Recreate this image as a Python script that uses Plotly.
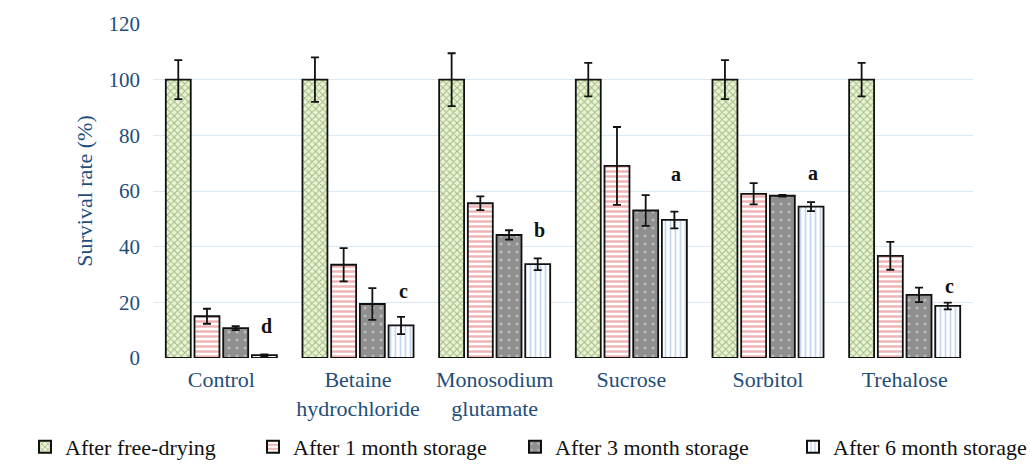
import plotly.graph_objects as go

categories = ["Control", "Betaine<br>hydrochloride", "Monosodium<br>glutamate", "Sucrose", "Sorbitol", "Trehalose"]
series_names = ["After free-drying", "After 1 month storage", "After 3 month storage", "After 6 month storage"]

free_drying = [100, 100, 100, 100, 100, 100]
free_drying_err = [7, 8, 9.5, 6, 7, 6]
month1 = [15, 33.5, 55.6, 69, 59, 36.7]
month1_err = [2.7, 6, 2.5, 14, 3.8, 5]
month3 = [10.7, 19.4, 44.2, 53, 58.3, 22.7]
month3_err = [0.7, 5.7, 1.7, 5.5, 0.3, 2.6]
month6 = [1, 11.7, 33.7, 49.6, 54.4, 18.7]
month6_err = [0.3, 3.1, 2.1, 3, 1.6, 1.2]

sig_letters = ["d", "c", "b", "a", "a", "c"]
sig_y = [11.5, 24, 46, 66, 66.5, 26]

values = [free_drying, month1, month3, month6]
errors = [free_drying_err, month1_err, month3_err, month6_err]

styles = [
    dict(bg="#eaf3d6", fg="#557f22", shape="x", size=5, solidity=0.35),
    dict(bg="#ffffff", fg="#e06a6a", shape="-", size=5, solidity=0.5),
    dict(bg="#8f8f8f", fg="#e6e6e6", shape=".", size=8, solidity=0.12),
    dict(bg="#ffffff", fg="#8fb0e0", shape="|", size=5, solidity=0.35),
]

# one legend per series so each entry sits where the reference places it
legend_ids = ["legend", "legend2", "legend3", "legend4"]
legend_x_px = [25, 253, 515, 793]

FONT = "Liberation Serif"
BLUE = "#1f4e79"
W, H = 1034, 475

fig = go.Figure()
for name, v, e, s, lg in zip(series_names, values, errors, styles, legend_ids):
    fig.add_trace(go.Bar(
        name=name, x=categories, y=v, legend=lg,
        marker=dict(
            color=s["bg"],
            line=dict(color="#111111", width=1.8),
            pattern=dict(shape=s["shape"], fgcolor=s["fg"], bgcolor=s["bg"],
                         size=s["size"], solidity=s["solidity"], fillmode="overlay"),
        ),
        error_y=dict(type="data", array=e, visible=True, color="#111111", thickness=1.8, width=4),
    ))

for cat, letter, yv in zip(categories, sig_letters, sig_y):
    fig.add_annotation(x=cat, y=yv, text="<b>" + letter + "</b>", showarrow=False,
                       xref="x", yref="y", xshift=45,
                       font=dict(family=FONT, size=20, color="#111111"))

legend_layout = {}
for lg, xp in zip(legend_ids, legend_x_px):
    legend_layout[lg] = dict(orientation="h", xref="container", yref="container",
                             x=xp / W, xanchor="left", y=1 - 447 / H, yanchor="middle",
                             font=dict(family=FONT, size=22, color="#111111"),
                             bgcolor="rgba(0,0,0,0)", itemsizing="constant")

fig.update_layout(
    width=W, height=H,
    margin=dict(l=153, r=61, t=24, b=117, autoexpand=False),
    paper_bgcolor="white", plot_bgcolor="white",
    barmode="group", bargap=0.16, bargroupgap=0.13,
    font=dict(family=FONT, color=BLUE),
    showlegend=True,
    **legend_layout,
)
fig.update_yaxes(range=[0, 120], dtick=20, showgrid=True, gridcolor="#dce8f4", gridwidth=1,
                 zeroline=False, showline=False, ticks="", ticklabelstandoff=12,
                 tickfont=dict(family=FONT, size=21, color=BLUE),
                 title=dict(text="Survival rate (%)", font=dict(family=FONT, size=22, color=BLUE), standoff=9))
fig.update_xaxes(showline=False, ticks="", showgrid=False, ticklabelstandoff=6,
                 tickfont=dict(family=FONT, size=22, color=BLUE))

fig.write_html("out.html", config={"displayModeBar": False},
               post_script="document.body.style.margin='0';")
